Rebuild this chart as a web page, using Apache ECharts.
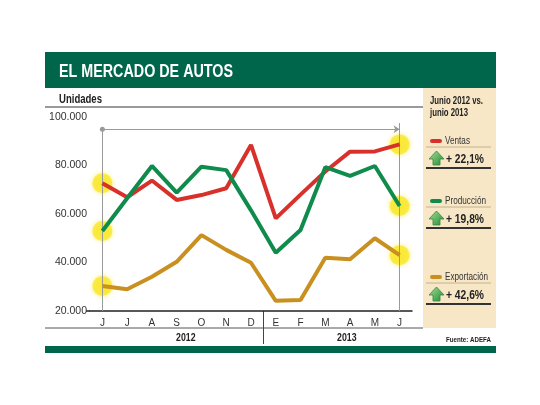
<!DOCTYPE html>
<html>
<head>
<meta charset="utf-8">
<script src="https://cdn.jsdelivr.net/npm/echarts@6/dist/echarts.min.js"></script>
<style>html,body{margin:0;padding:0;background:#fff}#c{width:540px;height:405px}</style>
</head>
<body>
<div id="c"></div>
<script>
const months = ['J','J','A','S','O','N','D','E','F','M','A','M','J'];
const years = ['2012','2013'];
const ventas     = [72700, 66900, 73800, 65800, 67800, 70600, 88500, 58200, 68000, 77500, 85700, 85800, 88700];
const produccion = [53000, 66500, 79800, 68800, 79500, 78100, 61500, 44000, 53400, 79300, 75700, 79800, 63300];
const exportacion= [30300, 29000, 34100, 40300, 51300, 45200, 39900, 24200, 24500, 42000, 41300, 50000, 43000];
const yTicks = [20000, 40000, 60000, 80000, 100000];
const seriesNames = ['Ventas','Producción','Exportación'];
const changes = ['+ 22,1%','+ 19,8%','+ 42,6%'];
const colors = ['#d8312b','#0f8b4c','#c9901f'];

const FAM = '"Liberation Sans",Arial,sans-serif';
const mctx = document.createElement('canvas').getContext('2d');
function T(x, y, text, font, targetW, extra) {
  mctx.font = font;
  const w = mctx.measureText(text).width;
  const s = Object.assign({text: text, fill: '#222', font: font, textVerticalAlign: 'middle'}, extra || {});
  return {type: 'text', x: x, y: y, scaleX: targetW / w, style: s, z: 10};
}

const chart = echarts.init(document.getElementById('c'), null, {renderer: 'canvas'});
const allData = [ventas, produccion, exportacion];
const last = months.length - 1;

const lineSeries = allData.map((d, i) => ({
  name: seriesNames[i], type: 'line', data: d, symbol: 'none', z: 5,
  lineStyle: {width: 4, color: colors[i]}, itemStyle: {color: colors[i]},
  silent: true
}));
lineSeries[0].markLine = {
  silent: true, symbol: 'none', label: {show: false},
  lineStyle: {color: '#9a9a9a', width: 1, type: 'solid'},
  data: [
    [{coord: [0, yTicks[0]], symbol: 'none'}, {coord: [0, 95000], symbol: 'circle', symbolSize: 5}],
    [{coord: [0, 95000], symbol: 'none'}, {coord: [last - 0.15, 95000], symbol: 'arrow', symbolSize: 6}],
    [{coord: [last, yTicks[0]]}, {coord: [last, 97500]}]
  ]
};
const glow = {
  type: 'scatter', z: 3, silent: true, symbolSize: 20,
  itemStyle: {color: 'rgba(250,230,35,0.92)', shadowBlur: 5, shadowColor: 'rgba(250,232,40,0.9)'},
  data: allData.flatMap(d => [[0, d[0]], [last, d[last]]])
};

const graphics = [];
// header
graphics.push({type: 'rect', shape: {x: 45, y: 52, width: 451, height: 36}, style: {fill: '#00664b'}});
graphics.push(T(59, 72, 'EL MERCADO DE AUTOS', 'bold 18px ' + FAM, 174, {fill: '#fff'}));
graphics.push(T(59, 100, 'Unidades', 'bold 12.5px ' + FAM, 43));
graphics.push({type: 'line', shape: {x1: 45, y1: 107, x2: 423, y2: 107}, style: {stroke: '#9a9a9a', lineWidth: 2}});
// beige panel
graphics.push({type: 'rect', shape: {x: 423, y: 88, width: 73, height: 240}, style: {fill: '#f7e7c6'}, z: -1});
graphics.push(T(430, 101, 'Junio 2012 vs.', 'bold 11px ' + FAM, 53));
graphics.push(T(430, 113, 'junio 2013', 'bold 11px ' + FAM, 38));
const offs = [0, 60, 136];
const nameW = [25, 41, 43];
offs.forEach((o, i) => {
  const y0 = 141 + o;
  graphics.push({type: 'rect', shape: {x: 430, y: y0 - 2, width: 12, height: 4, r: 2}, style: {fill: colors[i]}});
  graphics.push(T(445, y0, seriesNames[i], '11px ' + FAM, nameW[i], {fill: '#333'}));
  graphics.push({type: 'line', shape: {x1: 426, y1: y0 + 6, x2: 491, y2: y0 + 6}, style: {stroke: '#c2b28f', lineWidth: 1}});
  graphics.push({type: 'polygon', shape: {points: [[436.5, y0 + 10], [429, y0 + 18], [433, y0 + 18], [433, y0 + 24], [440, y0 + 24], [440, y0 + 18], [444, y0 + 18]]},
    style: {fill: new echarts.graphic.LinearGradient(0, 0, 1, 1, [{offset: 0, color: '#a8e08f'}, {offset: 1, color: '#1e8a3a'}]), stroke: '#3c8a45', lineWidth: 0.5}});
  graphics.push(T(446, y0 + 18.5, changes[i], 'bold 13px ' + FAM, 38));
  graphics.push({type: 'line', shape: {x1: 426, y1: y0 + 27, x2: 491, y2: y0 + 27}, style: {stroke: '#333', lineWidth: 2}});
});
// bottom
graphics.push({type: 'line', shape: {x1: 86, y1: 311, x2: 90, y2: 311}, style: {stroke: '#222', lineWidth: 1.5}});
graphics.push({type: 'line', shape: {x1: 45, y1: 328, x2: 423, y2: 328}, style: {stroke: '#555', lineWidth: 1}});
graphics.push(T(176, 338, years[0], 'bold 10.5px ' + FAM, 19.5));
graphics.push(T(337, 338, years[1], 'bold 10.5px ' + FAM, 19.5));
graphics.push(T(491, 340, 'Fuente: ADEFA', 'bold 8px ' + FAM, 45, {textAlign: 'right'}));
graphics.push({type: 'rect', shape: {x: 45, y: 346, width: 451, height: 7}, style: {fill: '#00664b'}});

chart.setOption({
  animation: false,
  grid: {left: 90, right: 128, top: 117, bottom: 94, containLabel: false},
  xAxis: {
    type: 'category', data: months, boundaryGap: true,
    axisLine: {show: true, lineStyle: {color: '#222', width: 1.5}},
    axisTick: {show: false},
    axisLabel: {color: '#333', fontSize: 10, margin: 7, fontFamily: FAM, interval: 0}
  },
  yAxis: {
    type: 'value', min: yTicks[0], max: yTicks[yTicks.length - 1], interval: 20000,
    axisLine: {show: false}, axisTick: {show: false}, splitLine: {show: false},
    axisLabel: {color: '#333', fontSize: 10.5, margin: 3, fontFamily: FAM,
      formatter: v => String(v).replace(/\B(?=(\d{3})+(?!\d))/g, '.')}
  },
  series: [glow, ...lineSeries],
  graphic: graphics
});
// year separator between D and E, placed from the axis scale
const xD = chart.convertToPixel({xAxisIndex: 0}, 6);
const xE = chart.convertToPixel({xAxisIndex: 0}, 7);
const xs = Math.round((xD + xE) / 2) + 0.5;
graphics.push({type: 'line', shape: {x1: xs, y1: 311, x2: xs, y2: 344}, style: {stroke: '#444', lineWidth: 1}});
chart.setOption({graphic: graphics});
</script>
</body>
</html>
